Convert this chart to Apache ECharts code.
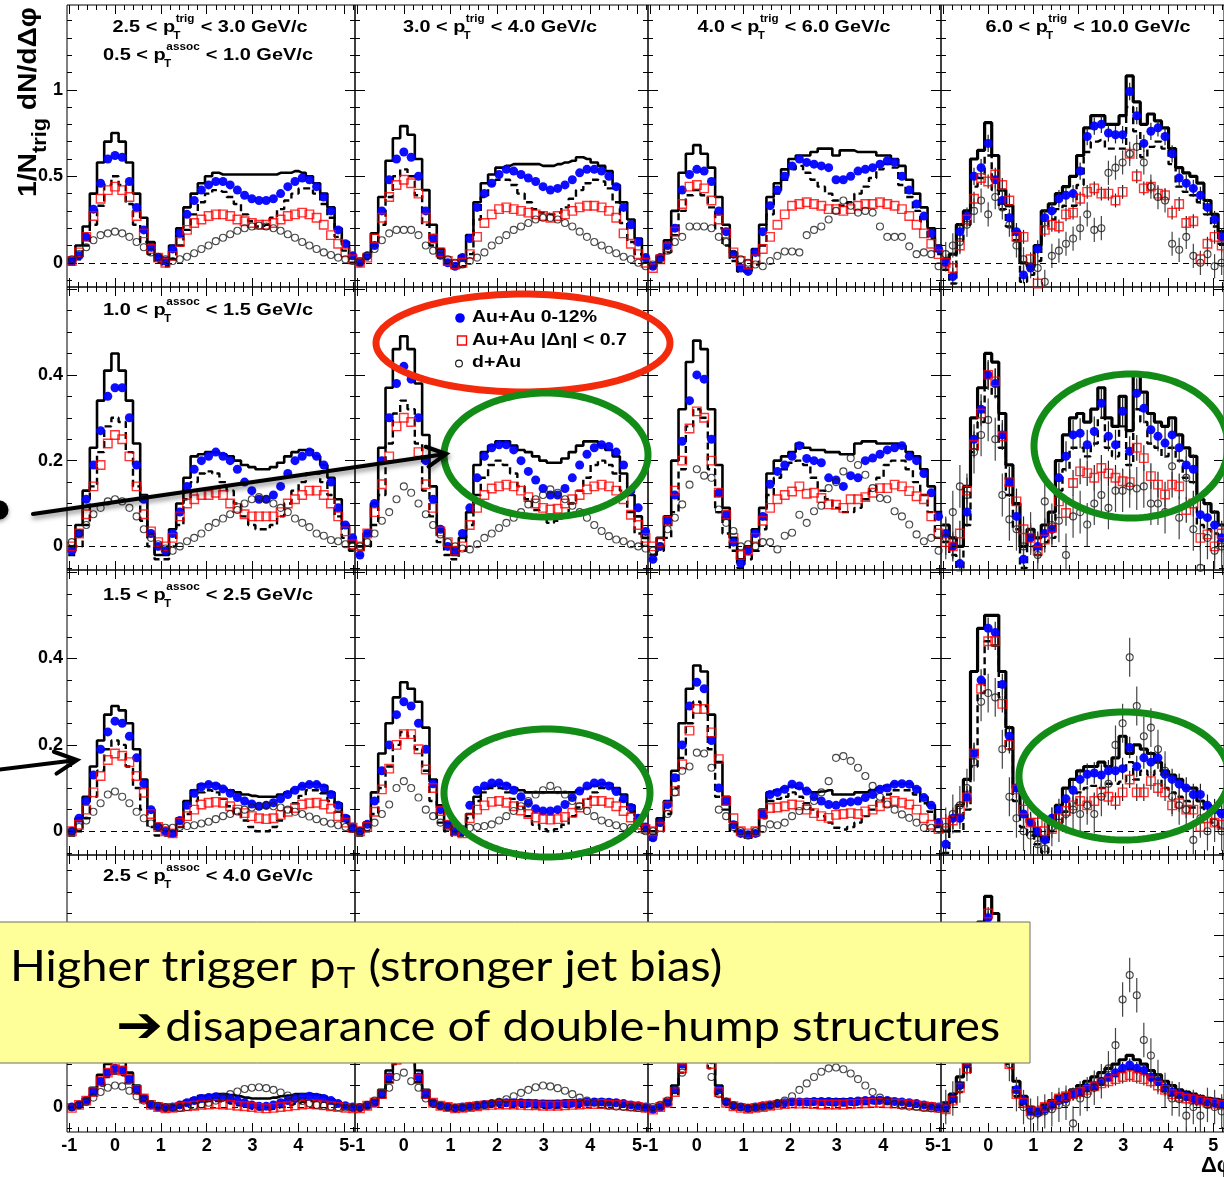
<!DOCTYPE html>
<html><head><meta charset="utf-8">
<script src="https://cdn.jsdelivr.net/npm/echarts/dist/echarts.min.js"></script>
<style>html,body{margin:0;padding:0;background:#fff}#c{width:1224px;height:1177px}</style>
</head><body><div id="c"></div>
<script>
// ---------- data ----------
const dphi = [-0.942,-0.785,-0.628,-0.471,-0.314,-0.157,0,0.157,0.314,0.471,0.628,0.785,0.942,1.1,1.257,1.414,1.571,1.728,1.885,2.042,2.199,2.356,2.513,2.67,2.827,2.985,3.142,3.299,3.456,3.613,3.77,3.927,4.084,4.241,4.398,4.555,4.712,4.869,5.027,5.184];
const xTickLabels = [-1,0,1,2,3,4,5];
const yTickLabelsRow1 = [0,0.5,1];
const yTickLabelsRows = [0,0.2,0.4];
const trigBins = ['2.5','3.0','4.0','6.0','10.0'];
const assocBins = ['0.5','1.0','1.5','2.5','4.0'];
const legendNames = ['Au+Au 0-12%','Au+Au |Δη| < 0.7','d+Au'];
const note1 = ['Higher trigger p','T',' (stronger jet bias)'];
const note2 = ['➔','disapearance of double-hump structures'];

// row 1 (0.5-1.0 GeV/c assoc)
const blue_r1c1 = [0.01,0.04,0.15,0.31,0.46,0.60,0.62,0.61,0.47,0.32,0.19,0.09,0.03,0.01,0.08,0.17,0.28,0.36,0.42,0.45,0.47,0.47,0.45,0.42,0.39,0.37,0.36,0.36,0.37,0.40,0.44,0.47,0.49,0.48,0.44,0.38,0.30,0.19,0.11,0.04];
const red_r1c1 = [0.01,0.06,0.15,0.27,0.37,0.42,0.44,0.42,0.38,0.27,0.17,0.08,0.03,0.0,0.04,0.12,0.19,0.23,0.25,0.27,0.28,0.28,0.27,0.25,0.24,0.23,0.22,0.22,0.23,0.25,0.27,0.28,0.29,0.28,0.26,0.22,0.16,0.11,0.06,0.02];
const dau_r1c1 = [0.02,0.05,0.09,0.13,0.16,0.17,0.18,0.17,0.15,0.12,0.09,0.06,0.035,0.02,0.01,0.02,0.035,0.055,0.08,0.10,0.125,0.145,0.165,0.185,0.20,0.21,0.215,0.21,0.20,0.185,0.165,0.145,0.12,0.10,0.08,0.06,0.045,0.03,0.02,0.01];
const hi_r1c1 = [0.02,0.10,0.21,0.40,0.58,0.70,0.75,0.70,0.58,0.40,0.26,0.12,0.04,0.02,0.10,0.20,0.32,0.40,0.46,0.50,0.52,0.51,0.51,0.51,0.51,0.51,0.51,0.51,0.51,0.52,0.52,0.53,0.52,0.50,0.46,0.40,0.32,0.20,0.12,0.05];
const lo_r1c1 = [-0.01,0.02,0.10,0.22,0.33,0.45,0.50,0.45,0.34,0.22,0.12,0.05,0.0,-0.02,0.02,0.10,0.19,0.28,0.35,0.40,0.42,0.41,0.38,0.34,0.28,0.24,0.21,0.22,0.26,0.31,0.36,0.40,0.43,0.43,0.40,0.34,0.26,0.15,0.07,0.0];

const blue_r1c2 = [0.0,0.04,0.10,0.30,0.48,0.60,0.64,0.61,0.50,0.30,0.14,0.05,0.0,-0.02,0.03,0.14,0.32,0.40,0.46,0.51,0.54,0.53,0.51,0.49,0.47,0.44,0.42,0.43,0.45,0.48,0.52,0.54,0.54,0.53,0.50,0.44,0.32,0.22,0.12,0.03];
const red_r1c2 = [0.0,0.03,0.14,0.26,0.38,0.45,0.48,0.46,0.40,0.26,0.14,0.06,0.01,-0.01,0.0,0.05,0.15,0.23,0.28,0.31,0.32,0.31,0.30,0.29,0.28,0.27,0.26,0.27,0.28,0.30,0.32,0.33,0.33,0.32,0.30,0.26,0.17,0.11,0.05,0.0];
const dau_r1c2 = [0.01,0.04,0.08,0.13,0.17,0.19,0.19,0.19,0.16,0.10,0.07,0.04,0.02,0.0,-0.01,0.01,0.03,0.06,0.10,0.13,0.16,0.19,0.21,0.23,0.25,0.26,0.26,0.25,0.23,0.21,0.18,0.15,0.12,0.10,0.075,0.055,0.035,0.02,0.0,-0.02];
const hi_r1c2 = [0.0,0.05,0.17,0.38,0.59,0.72,0.79,0.74,0.60,0.42,0.22,0.08,0.01,-0.02,0.04,0.16,0.35,0.46,0.51,0.55,0.56,0.57,0.57,0.57,0.57,0.56,0.56,0.57,0.58,0.59,0.61,0.60,0.58,0.56,0.53,0.45,0.35,0.25,0.14,0.04];
const lo_r1c2 = [-0.01,0.02,0.10,0.22,0.38,0.50,0.54,0.50,0.39,0.22,0.10,0.03,-0.01,-0.03,-0.02,0.05,0.25,0.38,0.45,0.48,0.48,0.45,0.40,0.35,0.31,0.29,0.28,0.29,0.32,0.37,0.42,0.46,0.48,0.47,0.43,0.35,0.23,0.12,0.05,0.0];

const blue_r1c3 = [-0.02,0.03,0.10,0.20,0.42,0.51,0.54,0.53,0.47,0.30,0.18,0.05,-0.03,-0.05,0.06,0.18,0.33,0.42,0.50,0.56,0.60,0.58,0.57,0.56,0.55,0.48,0.48,0.50,0.53,0.54,0.55,0.57,0.59,0.58,0.50,0.42,0.34,0.27,0.17,0.08];
const red_r1c3 = [-0.03,0.02,0.09,0.18,0.34,0.44,0.45,0.43,0.36,0.25,0.17,0.06,0.01,-0.01,0.02,0.08,0.15,0.22,0.28,0.33,0.34,0.35,0.34,0.33,0.31,0.31,0.30,0.31,0.33,0.34,0.34,0.35,0.34,0.33,0.31,0.27,0.22,0.17,0.11,0.05];
const dau_r1c3 = [-0.01,0.02,0.07,0.12,0.15,0.21,0.21,0.21,0.20,0.15,0.12,0.05,0.02,0.0,-0.01,-0.02,0.01,0.04,0.065,0.065,0.06,0.16,0.19,0.21,0.25,0.30,0.36,0.33,0.29,0.30,0.29,0.21,0.15,0.15,0.15,0.095,0.05,0.06,0.05,-0.02];
const hi_r1c3 = [-0.02,0.04,0.13,0.30,0.52,0.63,0.68,0.63,0.55,0.38,0.22,0.06,-0.02,-0.04,0.08,0.22,0.38,0.46,0.54,0.60,0.62,0.62,0.64,0.66,0.66,0.62,0.65,0.65,0.64,0.64,0.64,0.62,0.62,0.60,0.56,0.48,0.40,0.32,0.20,0.10];
const lo_r1c3 = [-0.03,0.0,0.06,0.16,0.30,0.39,0.42,0.39,0.32,0.20,0.10,0.01,-0.05,-0.06,-0.01,0.10,0.28,0.40,0.48,0.54,0.56,0.52,0.48,0.44,0.40,0.36,0.33,0.35,0.40,0.44,0.49,0.54,0.57,0.55,0.45,0.38,0.30,0.24,0.14,0.05];

const blue_r1c4 = [0.0,-0.08,0.18,0.27,0.50,0.55,0.69,0.48,0.36,0.26,0.18,-0.07,-0.03,0.08,0.26,0.30,0.37,0.39,0.40,0.53,0.73,0.79,0.80,0.75,0.74,0.74,0.99,0.85,0.69,0.76,0.78,0.73,0.63,0.49,0.46,0.43,0.39,0.32,0.25,0.15];
const red_r1c4 = [0.0,-0.03,0.10,0.25,0.37,0.49,0.47,0.51,0.45,0.36,0.15,0.15,0.02,-0.12,0.19,0.22,0.21,0.28,0.29,0.37,0.41,0.43,0.40,0.40,0.36,0.41,0.63,0.50,0.43,0.44,0.40,0.39,0.29,0.34,0.23,0.24,0.02,0.11,0.15,0.10];
const dau_r1c4 = [0.05,0.10,0.12,0.22,0.30,0.36,0.28,0.38,0.32,0.22,0.10,0.02,-0.02,-0.03,-0.11,0.04,0.07,0.11,0.14,0.20,0.28,0.19,0.20,0.52,0.55,0.58,0.63,0.67,0.58,0.44,0.38,0.36,0.11,0.075,0.15,0.04,0.0,0.05,-0.02,0.0];
const hi_r1c4 = [0.02,0.05,0.22,0.30,0.60,0.65,0.81,0.62,0.42,0.33,0.18,0.0,-0.02,0.10,0.30,0.34,0.40,0.44,0.50,0.62,0.78,0.85,0.85,0.80,0.80,0.85,1.08,0.93,0.80,0.86,0.82,0.78,0.66,0.55,0.52,0.50,0.46,0.36,0.28,0.18];
const lo_r1c4 = [-0.04,-0.12,0.13,0.22,0.44,0.49,0.62,0.42,0.31,0.21,0.13,-0.11,-0.07,0.01,0.21,0.25,0.31,0.33,0.33,0.45,0.64,0.70,0.71,0.66,0.66,0.66,0.90,0.76,0.61,0.67,0.70,0.66,0.57,0.44,0.41,0.39,0.35,0.28,0.21,0.11];

// row 2 (1.0-1.5 GeV/c assoc)
const blue_r2c1 = [-0.01,0.03,0.11,0.19,0.27,0.35,0.37,0.37,0.30,0.19,0.11,0.03,0.0,-0.01,0.03,0.08,0.14,0.18,0.20,0.21,0.22,0.21,0.20,0.18,0.15,0.13,0.11,0.11,0.12,0.14,0.17,0.20,0.21,0.22,0.21,0.19,0.15,0.09,0.05,0.02];
const red_r2c1 = [0.0,0.03,0.075,0.14,0.19,0.24,0.26,0.25,0.21,0.14,0.075,0.035,0.01,0.0,0.02,0.07,0.10,0.11,0.12,0.12,0.125,0.12,0.10,0.09,0.075,0.07,0.07,0.07,0.07,0.08,0.10,0.11,0.12,0.13,0.13,0.12,0.10,0.07,0.035,0.005];
const dau_r2c1 = [0.01,0.03,0.05,0.075,0.09,0.105,0.11,0.105,0.09,0.07,0.04,0.02,0.005,-0.005,-0.01,0.0,0.012,0.02,0.03,0.045,0.055,0.065,0.075,0.085,0.10,0.11,0.115,0.11,0.10,0.09,0.08,0.065,0.055,0.045,0.03,0.025,0.015,0.012,0.005,0.0];
const hi_r2c1 = [0.0,0.05,0.13,0.23,0.34,0.41,0.45,0.41,0.34,0.24,0.12,0.03,-0.02,-0.02,0.04,0.10,0.16,0.21,0.215,0.22,0.22,0.215,0.21,0.20,0.19,0.185,0.18,0.18,0.185,0.195,0.21,0.22,0.225,0.225,0.21,0.19,0.16,0.11,0.05,0.01];
const lo_r2c1 = [-0.02,0.0,0.05,0.14,0.22,0.28,0.30,0.29,0.22,0.14,0.06,0.0,-0.03,-0.03,0.0,0.05,0.11,0.15,0.17,0.175,0.17,0.15,0.13,0.10,0.07,0.05,0.04,0.04,0.05,0.07,0.10,0.13,0.15,0.17,0.17,0.15,0.12,0.07,0.02,-0.01];

const blue_r2c2 = [-0.02,0.03,0.10,0.20,0.30,0.38,0.42,0.39,0.30,0.20,0.11,0.04,0.0,-0.01,0.03,0.09,0.16,0.21,0.23,0.237,0.237,0.225,0.20,0.175,0.155,0.135,0.12,0.12,0.135,0.16,0.19,0.215,0.23,0.237,0.233,0.22,0.19,0.13,0.09,0.035];
const red_r2c2 = [0.0,0.03,0.08,0.145,0.21,0.28,0.30,0.29,0.22,0.145,0.09,0.035,0.01,-0.01,0.0,0.05,0.09,0.12,0.135,0.14,0.144,0.14,0.13,0.115,0.10,0.09,0.086,0.088,0.10,0.11,0.12,0.133,0.14,0.144,0.14,0.13,0.11,0.074,0.05,0.02];
const dau_r2c2 = [0.0,0.01,0.03,0.06,0.08,0.11,0.14,0.125,0.10,0.075,0.05,0.028,0.01,0.0,-0.005,-0.007,0.005,0.02,0.03,0.043,0.055,0.067,0.08,0.098,0.11,0.12,0.133,0.125,0.11,0.095,0.08,0.067,0.05,0.036,0.024,0.016,0.012,0.005,0.0,-0.005];
const hi_r2c2 = [0.0,0.03,0.10,0.23,0.37,0.46,0.49,0.46,0.38,0.26,0.14,0.04,0.0,-0.02,0.02,0.08,0.19,0.22,0.235,0.245,0.245,0.235,0.225,0.22,0.21,0.20,0.195,0.195,0.205,0.22,0.235,0.245,0.245,0.235,0.225,0.21,0.17,0.12,0.07,0.02];
const lo_r2c2 = [-0.02,0.0,0.05,0.12,0.24,0.31,0.34,0.32,0.24,0.13,0.07,0.01,-0.02,-0.03,-0.01,0.05,0.12,0.16,0.19,0.20,0.19,0.17,0.14,0.11,0.085,0.065,0.055,0.06,0.075,0.10,0.13,0.16,0.19,0.20,0.19,0.17,0.13,0.08,0.03,0.0];

const blue_r2c3 = [-0.03,0.0,0.06,0.12,0.245,0.34,0.40,0.39,0.25,0.125,0.074,0.01,-0.04,-0.01,0.03,0.07,0.145,0.175,0.19,0.21,0.235,0.205,0.20,0.195,0.16,0.155,0.14,0.165,0.16,0.20,0.206,0.215,0.225,0.23,0.235,0.21,0.20,0.17,0.125,0.07];
const red_r2c3 = [0.0,0.01,0.06,0.13,0.20,0.275,0.315,0.30,0.20,0.125,0.074,0.02,-0.02,-0.01,0.02,0.06,0.09,0.11,0.12,0.128,0.14,0.123,0.125,0.113,0.098,0.097,0.09,0.11,0.11,0.115,0.125,0.136,0.136,0.144,0.14,0.129,0.117,0.11,0.07,0.03];
const dau_r2c3 = [-0.01,0.0,0.04,0.067,0.098,0.144,0.18,0.165,0.16,0.086,0.055,0.036,0.0,0.005,0.0,0.01,0.01,-0.007,0.025,0.032,0.074,0.055,0.082,0.095,0.136,0.15,0.175,0.206,0.19,0.167,0.136,0.113,0.11,0.082,0.07,0.051,0.028,0.012,0.02,-0.01];
const hi_r2c3 = [-0.02,0.02,0.07,0.20,0.32,0.43,0.48,0.46,0.32,0.19,0.09,0.02,-0.03,0.0,0.04,0.09,0.17,0.20,0.21,0.22,0.24,0.23,0.225,0.225,0.22,0.22,0.215,0.215,0.24,0.245,0.245,0.24,0.24,0.24,0.235,0.22,0.21,0.18,0.14,0.08];
const lo_r2c3 = [-0.03,-0.01,0.02,0.08,0.18,0.28,0.32,0.30,0.18,0.08,0.03,-0.01,-0.05,-0.03,-0.01,0.04,0.12,0.16,0.18,0.195,0.20,0.19,0.16,0.13,0.11,0.09,0.08,0.08,0.09,0.11,0.13,0.16,0.19,0.20,0.20,0.18,0.15,0.12,0.08,0.02];

const blue_r2c4 = [0.03,0.0,-0.04,0.08,0.25,0.32,0.40,0.38,0.26,0.15,0.07,-0.03,0.02,0.0,0.03,0.04,0.16,0.21,0.26,0.264,0.237,0.268,0.334,0.257,0.237,0.315,0.222,0.357,0.322,0.272,0.257,0.241,0.26,0.23,0.19,0.18,0.074,0.067,0.05,0.02];
const red_r2c4 = [0.01,0.0,0.03,0.13,0.237,0.31,0.40,0.385,0.257,0.15,0.105,0.04,0.02,-0.01,0.016,0.043,0.105,0.078,0.148,0.175,0.171,0.16,0.183,0.17,0.16,0.152,0.15,0.23,0.206,0.164,0.144,0.121,0.144,0.14,0.085,0.10,0.02,0.028,0.0,0.03];
const dau_r2c4 = [0.02,0.08,0.14,0.12,0.22,0.26,0.295,0.25,0.12,0.063,0.04,0.0,0.03,-0.02,0.105,0.05,0.06,-0.02,0.07,0.08,0.051,0.10,0.12,0.09,0.13,0.13,0.14,0.135,0.14,0.10,0.10,0.08,0.187,0.067,0.16,0.04,-0.05,0.02,-0.01,0.0];
const hi_r2c4 = [0.05,0.02,0.0,0.14,0.30,0.37,0.45,0.43,0.31,0.19,0.10,0.0,0.04,0.02,0.05,0.08,0.20,0.26,0.30,0.31,0.29,0.32,0.37,0.30,0.28,0.35,0.27,0.40,0.36,0.31,0.29,0.28,0.30,0.26,0.23,0.21,0.11,0.10,0.08,0.05];
const lo_r2c4 = [0.01,-0.02,-0.06,0.05,0.22,0.29,0.37,0.35,0.23,0.12,0.04,-0.05,0.0,-0.02,0.01,0.02,0.13,0.18,0.23,0.23,0.21,0.24,0.30,0.23,0.21,0.28,0.19,0.32,0.29,0.24,0.23,0.21,0.23,0.20,0.16,0.15,0.05,0.04,0.03,0.0];

// row 3 (1.5-2.5 GeV/c assoc)
const blue_r3c1 = [0.0,0.03,0.07,0.13,0.19,0.23,0.255,0.25,0.22,0.17,0.11,0.05,0.01,0.0,-0.005,0.025,0.06,0.088,0.103,0.108,0.105,0.098,0.088,0.078,0.07,0.063,0.058,0.06,0.066,0.075,0.085,0.095,0.104,0.108,0.108,0.10,0.085,0.06,0.03,0.01];
const red_r3c1 = [0.0,0.015,0.05,0.09,0.128,0.165,0.18,0.175,0.16,0.128,0.089,0.04,0.01,0.0,-0.005,0.02,0.035,0.05,0.062,0.066,0.068,0.066,0.058,0.05,0.042,0.035,0.03,0.028,0.03,0.038,0.045,0.054,0.062,0.065,0.066,0.062,0.052,0.035,0.02,0.008];
const dau_r3c1 = [0.0,0.01,0.025,0.045,0.065,0.085,0.092,0.08,0.065,0.045,0.03,0.018,0.01,0.008,0.008,0.01,0.012,0.014,0.018,0.022,0.028,0.035,0.04,0.046,0.05,0.055,0.058,0.06,0.058,0.055,0.05,0.045,0.04,0.034,0.028,0.022,0.018,0.014,0.01,0.006];
const hi_r3c1 = [0.0,0.03,0.08,0.15,0.21,0.27,0.29,0.28,0.25,0.19,0.12,0.05,0.01,0.0,0.0,0.03,0.07,0.095,0.108,0.11,0.108,0.10,0.095,0.09,0.085,0.082,0.08,0.08,0.08,0.085,0.09,0.098,0.105,0.11,0.11,0.105,0.09,0.065,0.035,0.012];
const lo_r3c1 = [-0.01,0.0,0.03,0.08,0.14,0.19,0.21,0.20,0.15,0.10,0.05,0.01,-0.01,-0.01,-0.01,0.01,0.04,0.07,0.09,0.095,0.09,0.075,0.058,0.04,0.025,0.01,0.0,0.0,0.01,0.025,0.045,0.065,0.082,0.095,0.095,0.088,0.07,0.045,0.02,0.0];

const blue_r3c2 = [0.0,0.016,0.07,0.14,0.20,0.27,0.30,0.29,0.25,0.19,0.11,0.05,0.015,0.0,0.0,0.06,0.095,0.105,0.112,0.112,0.105,0.095,0.08,0.065,0.052,0.047,0.047,0.05,0.062,0.078,0.093,0.105,0.112,0.112,0.105,0.092,0.075,0.055,0.03,0.01];
const red_r3c2 = [0.0,0.01,0.045,0.097,0.145,0.20,0.225,0.225,0.19,0.143,0.10,0.047,0.015,0.0,-0.005,0.03,0.05,0.06,0.068,0.07,0.066,0.058,0.048,0.04,0.032,0.028,0.027,0.028,0.033,0.043,0.055,0.065,0.07,0.07,0.066,0.058,0.047,0.032,0.015,0.005];
const dau_r3c2 = [0.0,0.01,0.02,0.04,0.062,0.10,0.116,0.10,0.078,0.05,0.035,0.02,0.01,0.005,0.005,0.008,0.01,0.012,0.016,0.025,0.035,0.047,0.058,0.07,0.085,0.095,0.105,0.095,0.085,0.07,0.058,0.047,0.035,0.025,0.019,0.014,0.01,0.008,0.005,0.0];
const hi_r3c2 = [0.0,0.02,0.09,0.18,0.25,0.31,0.345,0.33,0.30,0.24,0.12,0.06,0.02,0.0,0.0,0.04,0.08,0.10,0.105,0.11,0.108,0.10,0.095,0.09,0.09,0.09,0.09,0.09,0.09,0.09,0.095,0.10,0.105,0.11,0.11,0.10,0.085,0.06,0.035,0.01];
const lo_r3c2 = [-0.01,0.0,0.04,0.10,0.15,0.20,0.23,0.22,0.19,0.14,0.07,0.02,0.0,-0.01,-0.01,0.03,0.07,0.09,0.10,0.10,0.09,0.075,0.055,0.035,0.015,0.005,0.0,0.005,0.015,0.035,0.055,0.075,0.09,0.10,0.10,0.09,0.07,0.045,0.02,0.0];

const blue_r3c3 = [-0.015,0.02,0.062,0.124,0.20,0.29,0.345,0.33,0.21,0.10,0.07,0.015,-0.005,-0.008,-0.005,0.04,0.085,0.09,0.097,0.109,0.105,0.093,0.08,0.07,0.062,0.06,0.066,0.068,0.07,0.078,0.085,0.097,0.10,0.109,0.11,0.109,0.097,0.078,0.06,0.02];
const red_r3c3 = [0.0,0.01,0.058,0.093,0.155,0.233,0.283,0.283,0.229,0.167,0.07,0.03,0.0,-0.005,0.0,0.04,0.054,0.055,0.058,0.062,0.06,0.05,0.042,0.035,0.031,0.038,0.04,0.042,0.04,0.046,0.05,0.058,0.066,0.07,0.066,0.062,0.05,0.03,0.015,0.005];
const dau_r3c3 = [0.0,0.02,0.04,0.09,0.14,0.15,0.182,0.18,0.147,0.05,0.035,0.01,0.0,-0.01,0.0,0.005,0.016,0.014,0.02,0.035,0.047,0.058,0.07,0.09,0.116,0.17,0.174,0.163,0.147,0.128,0.105,0.08,0.062,0.05,0.039,0.031,0.02,0.008,0.008,0.005];
const hi_r3c3 = [0.0,0.03,0.07,0.14,0.25,0.33,0.384,0.37,0.27,0.16,0.08,0.02,0.0,-0.005,0.0,0.05,0.09,0.095,0.10,0.105,0.10,0.095,0.09,0.092,0.095,0.085,0.085,0.085,0.09,0.09,0.095,0.10,0.105,0.11,0.11,0.11,0.10,0.08,0.06,0.025];
const lo_r3c3 = [-0.02,0.0,0.04,0.10,0.17,0.25,0.30,0.29,0.19,0.08,0.05,0.0,-0.01,-0.015,-0.01,0.03,0.07,0.075,0.08,0.09,0.08,0.065,0.05,0.035,0.02,0.008,0.004,0.01,0.02,0.035,0.05,0.07,0.085,0.095,0.095,0.095,0.085,0.065,0.045,0.01];

const blue_r3c4 = [-0.03,0.03,0.03,0.08,0.18,0.35,0.47,0.46,0.34,0.22,0.10,0.04,0.02,0.0,-0.02,0.03,0.05,0.075,0.095,0.12,0.132,0.135,0.13,0.14,0.14,0.145,0.194,0.15,0.17,0.16,0.17,0.132,0.12,0.109,0.10,0.085,0.085,0.06,0.05,0.04];
const red_r3c4 = [0.02,0.025,0.05,0.078,0.18,0.33,0.44,0.44,0.295,0.20,0.097,0.05,0.02,0.02,0.0,0.005,0.03,0.047,0.06,0.07,0.06,0.07,0.09,0.08,0.07,0.09,0.12,0.09,0.09,0.116,0.10,0.09,0.06,0.065,0.05,0.05,0.01,0.03,0.02,0.015];
const dau_r3c4 = [0.01,0.04,0.06,0.10,0.16,0.30,0.32,0.31,0.19,0.08,0.03,0.0,-0.01,-0.03,-0.04,0.01,0.02,0.04,0.05,0.04,0.06,0.04,0.08,0.11,0.20,0.25,0.403,0.29,0.22,0.24,0.19,0.14,0.08,0.06,0.05,-0.02,0.03,0.0,0.02,0.0];
const hi_r3c4 = [0.0,0.03,0.06,0.12,0.37,0.47,0.50,0.50,0.37,0.24,0.10,0.04,0.02,-0.01,-0.02,0.02,0.06,0.10,0.12,0.14,0.15,0.15,0.16,0.15,0.17,0.22,0.18,0.20,0.19,0.18,0.16,0.14,0.13,0.12,0.10,0.10,0.07,0.06,0.05,0.04];
const lo_r3c4 = [-0.05,0.0,0.0,0.05,0.15,0.32,0.44,0.43,0.31,0.19,0.07,0.01,-0.01,-0.03,-0.05,0.0,0.02,0.045,0.065,0.09,0.10,0.105,0.10,0.11,0.11,0.115,0.16,0.12,0.14,0.13,0.14,0.10,0.09,0.08,0.07,0.055,0.055,0.03,0.02,0.01];

// row 4 (2.5-4.0 GeV/c assoc)
const blue_r4c1 = [0.0,0.005,0.015,0.035,0.06,0.08,0.09,0.085,0.065,0.04,0.02,0.005,0.0,-0.002,0.0,0.005,0.01,0.015,0.02,0.022,0.024,0.023,0.02,0.015,0.01,0.005,0.002,0.002,0.005,0.01,0.015,0.02,0.023,0.025,0.023,0.02,0.015,0.008,0.003,0.0];
const red_r4c1 = [-0.002,0.005,0.015,0.035,0.06,0.08,0.088,0.085,0.065,0.04,0.02,0.005,0.0,-0.003,-0.002,0.0,0.002,0.003,0.005,0.006,0.007,0.006,0.005,0.003,0.002,0.0,-0.002,-0.003,-0.002,0.0,0.002,0.004,0.006,0.007,0.006,0.004,0.002,0.0,-0.002,-0.003];
const dau_r4c1 = [0.0,0.005,0.012,0.022,0.035,0.045,0.05,0.048,0.038,0.025,0.015,0.007,0.003,0.0,-0.002,-0.002,0.0,0.003,0.006,0.01,0.015,0.022,0.03,0.036,0.042,0.045,0.046,0.044,0.04,0.034,0.027,0.02,0.014,0.009,0.005,0.003,0.001,0.0,-0.001,-0.002];
const hi_r4c1 = [0.0,0.008,0.02,0.045,0.075,0.10,0.11,0.105,0.08,0.05,0.025,0.008,0.0,0.0,0.002,0.008,0.014,0.02,0.026,0.028,0.03,0.03,0.028,0.025,0.022,0.02,0.02,0.02,0.022,0.025,0.027,0.03,0.03,0.03,0.028,0.024,0.018,0.01,0.004,0.0];
const lo_r4c1 = [-0.003,0.003,0.012,0.03,0.05,0.07,0.078,0.074,0.055,0.032,0.015,0.002,-0.003,-0.005,-0.003,0.0,0.005,0.01,0.012,0.014,0.014,0.012,0.008,0.004,0.0,-0.004,-0.006,-0.006,-0.004,0.0,0.004,0.008,0.012,0.014,0.014,0.012,0.008,0.004,0.0,-0.003];

const blue_r4c2 = [-0.002,0.003,0.01,0.03,0.07,0.12,0.16,0.13,0.07,0.03,0.01,0.003,0.0,-0.002,0.0,0.002,0.004,0.006,0.008,0.01,0.01,0.01,0.01,0.009,0.008,0.007,0.006,0.007,0.008,0.009,0.01,0.011,0.012,0.012,0.011,0.01,0.008,0.005,0.003,0.0];
const red_r4c2 = [-0.003,0.003,0.01,0.03,0.065,0.11,0.15,0.12,0.065,0.03,0.01,0.003,0.0,-0.003,-0.002,0.0,0.002,0.004,0.005,0.006,0.006,0.006,0.005,0.004,0.004,0.003,0.003,0.003,0.004,0.005,0.006,0.007,0.007,0.007,0.006,0.005,0.004,0.002,0.0,-0.002];
const dau_r4c2 = [0.0,0.005,0.015,0.03,0.045,0.07,0.08,0.06,0.045,0.02,0.008,0.003,0.0,-0.003,-0.002,0.0,0.002,0.005,0.008,0.012,0.018,0.025,0.033,0.04,0.046,0.05,0.048,0.044,0.038,0.03,0.022,0.015,0.01,0.006,0.003,0.001,0.0,-0.001,-0.002,-0.003];
const hi_r4c2 = [0.0,0.006,0.015,0.04,0.085,0.14,0.185,0.15,0.085,0.04,0.014,0.005,0.002,0.0,0.002,0.005,0.007,0.01,0.012,0.014,0.015,0.015,0.015,0.015,0.014,0.014,0.014,0.014,0.015,0.015,0.016,0.016,0.017,0.017,0.016,0.014,0.011,0.008,0.005,0.002];
const lo_r4c2 = [-0.004,0.0,0.006,0.022,0.058,0.10,0.14,0.11,0.058,0.022,0.006,0.0,-0.003,-0.004,-0.002,0.0,0.001,0.002,0.003,0.004,0.003,0.002,0.001,0.0,-0.001,-0.002,-0.002,-0.001,0.0,0.002,0.003,0.005,0.006,0.006,0.005,0.004,0.003,0.001,0.0,-0.002];

const blue_r4c3 = [-0.005,0.0,0.01,0.04,0.10,0.20,0.26,0.22,0.11,0.04,0.012,0.003,0.0,-0.003,0.0,0.003,0.005,0.008,0.01,0.012,0.012,0.012,0.013,0.013,0.013,0.012,0.012,0.013,0.014,0.015,0.016,0.016,0.015,0.013,0.012,0.01,0.008,0.005,0.002,0.0];
const red_r4c3 = [-0.006,0.0,0.01,0.035,0.09,0.18,0.24,0.20,0.10,0.035,0.01,0.002,-0.002,-0.004,-0.002,0.0,0.003,0.005,0.007,0.008,0.008,0.008,0.007,0.006,0.006,0.006,0.006,0.007,0.008,0.009,0.01,0.01,0.009,0.008,0.007,0.006,0.004,0.002,0.0,-0.002];
const dau_r4c3 = [0.0,0.005,0.015,0.04,0.08,0.12,0.15,0.12,0.07,0.03,0.012,0.004,0.0,-0.003,-0.002,0.0,0.003,0.008,0.015,0.025,0.04,0.055,0.07,0.082,0.09,0.092,0.088,0.078,0.065,0.05,0.035,0.022,0.013,0.007,0.003,0.001,0.0,-0.002,-0.003,-0.004];
const hi_r4c3 = [-0.002,0.003,0.015,0.05,0.12,0.23,0.30,0.25,0.13,0.05,0.016,0.006,0.002,0.0,0.002,0.005,0.008,0.011,0.014,0.016,0.017,0.018,0.018,0.018,0.018,0.018,0.018,0.018,0.019,0.02,0.02,0.02,0.019,0.017,0.015,0.013,0.01,0.007,0.004,0.001];
const lo_r4c3 = [-0.008,-0.003,0.006,0.03,0.08,0.17,0.22,0.19,0.09,0.03,0.008,0.0,-0.003,-0.005,-0.003,0.0,0.002,0.004,0.006,0.007,0.007,0.006,0.006,0.005,0.005,0.004,0.004,0.005,0.006,0.007,0.008,0.009,0.009,0.008,0.007,0.006,0.004,0.002,0.0,-0.002];

const blue_r4c4 = [0.0,0.02,0.05,0.10,0.22,0.38,0.44,0.40,0.25,0.12,0.04,0.015,-0.01,-0.012,-0.005,0.005,0.015,0.02,0.03,0.035,0.045,0.05,0.06,0.07,0.08,0.09,0.098,0.09,0.085,0.07,0.06,0.045,0.035,0.03,0.025,0.02,0.015,0.012,0.01,0.008];
const red_r4c4 = [-0.005,0.015,0.045,0.09,0.20,0.36,0.45,0.40,0.24,0.10,0.03,0.01,-0.01,-0.01,0.0,0.005,0.02,0.025,0.03,0.035,0.04,0.048,0.055,0.06,0.065,0.07,0.074,0.07,0.065,0.06,0.05,0.04,0.03,0.024,0.02,0.018,0.015,0.01,0.008,0.005];
const dau_r4c4 = [0.0,0.02,0.05,0.10,0.18,0.28,0.33,0.30,0.20,0.10,0.03,0.0,-0.02,-0.015,-0.01,-0.005,0.005,0.01,-0.038,0.02,0.03,0.045,0.06,0.09,0.144,0.25,0.307,0.26,0.156,0.12,0.07,0.04,0.02,0.018,-0.02,0.0,-0.02,0.005,0.0,-0.01];
const hi_r4c4 = [0.01,0.03,0.07,0.13,0.26,0.43,0.49,0.45,0.29,0.15,0.06,0.025,0.0,-0.005,0.005,0.015,0.025,0.03,0.04,0.05,0.06,0.07,0.08,0.09,0.10,0.11,0.12,0.11,0.10,0.085,0.075,0.06,0.05,0.04,0.035,0.03,0.025,0.02,0.018,0.015];
const lo_r4c4 = [-0.01,0.01,0.035,0.08,0.19,0.34,0.41,0.37,0.22,0.10,0.025,0.005,-0.015,-0.018,-0.012,-0.003,0.007,0.012,0.022,0.027,0.037,0.042,0.052,0.062,0.072,0.082,0.088,0.082,0.077,0.062,0.052,0.037,0.027,0.022,0.017,0.012,0.007,0.004,0.002,0.0];

// typical statistical error (half-length) for 6-10 GeV/c column: [AuAu 0-12%, AuAu |Δη|<0.7, d+Au]
const err_c4 = [[0.05,0.04,0.07],[0.035,0.03,0.05],[0.025,0.02,0.045],[0.015,0.015,0.04]];

const PANELS = [
  [blue_r1c1,red_r1c1,dau_r1c1,hi_r1c1,lo_r1c1],[blue_r1c2,red_r1c2,dau_r1c2,hi_r1c2,lo_r1c2],[blue_r1c3,red_r1c3,dau_r1c3,hi_r1c3,lo_r1c3],[blue_r1c4,red_r1c4,dau_r1c4,hi_r1c4,lo_r1c4],
  [blue_r2c1,red_r2c1,dau_r2c1,hi_r2c1,lo_r2c1],[blue_r2c2,red_r2c2,dau_r2c2,hi_r2c2,lo_r2c2],[blue_r2c3,red_r2c3,dau_r2c3,hi_r2c3,lo_r2c3],[blue_r2c4,red_r2c4,dau_r2c4,hi_r2c4,lo_r2c4],
  [blue_r3c1,red_r3c1,dau_r3c1,hi_r3c1,lo_r3c1],[blue_r3c2,red_r3c2,dau_r3c2,hi_r3c2,lo_r3c2],[blue_r3c3,red_r3c3,dau_r3c3,hi_r3c3,lo_r3c3],[blue_r3c4,red_r3c4,dau_r3c4,hi_r3c4,lo_r3c4],
  [blue_r4c1,red_r4c1,dau_r4c1,hi_r4c1,lo_r4c1],[blue_r4c2,red_r4c2,dau_r4c2,hi_r4c2,lo_r4c2],[blue_r4c3,red_r4c3,dau_r4c3,hi_r4c3,lo_r4c3],[blue_r4c4,red_r4c4,dau_r4c4,hi_r4c4,lo_r4c4]
];
PANELS.forEach((p,g)=>p.forEach((a,j)=>{ if(a.length!==dphi.length) throw new Error('length mismatch panel '+g+' series '+j+': '+a.length); }));

// ---------- layout ----------
const XMIN = -Math.PI/3, XMAX = 5*Math.PI/3, HW = Math.PI/40;
const colLeft=[67,355,648,941], colW=[288,293,293,293];
const rowTop=[5,287,570,855], rowH=[282,283,285,277];
const yMin=[-0.14,-0.055,-0.055,-0.058], yMax=[1.49,0.605,0.605,0.586];
function steps(a,b,st,skip){const o=[];for(let i=0;;i++){const v=Math.round((a+i*st)*1000)/1000; if(v>b+1e-9)break; if(!skip.some(s=>Math.abs(s-v)<1e-6))o.push(v);}return o;}
const xMinor = steps(-1,5.2,0.2,xTickLabels);
const yMinor1 = steps(-0.1,1.4,0.1,yTickLabelsRow1);
const yMinor2 = steps(-0.05,0.6,0.05,[0,0.2,0.4,0.6]);
const yMajor2 = [0,0.2,0.4,0.6];
const FONT = '"Liberation Sans", Arial, sans-serif';
const fmt = v => String(Math.round(v*100)/100);

function axX(g,pos,ticks,len,labels){
  return {type:'value', gridIndex:g, position:pos, min:XMIN, max:XMAX,
    axisLine:{show:false, onZero:false}, splitLine:{show:false},
    axisTick:{show:true, inside:true, length:len, customValues:ticks, lineStyle:{color:'#000',width:1}},
    axisLabel: labels ? {show:true, customValues:labels, margin:5, color:'#000', fontFamily:FONT, fontWeight:'bold', fontSize:18, formatter:fmt} : {show:false}};
}
function axY(g,r,pos,ticks,len,labels){
  return {type:'value', gridIndex:g, position:pos, min:yMin[r], max:yMax[r],
    axisLine:{show:false, onZero:false}, splitLine:{show:false},
    axisTick:{show:true, inside:true, length:len, customValues:ticks, lineStyle:{color:'#000',width:1}},
    axisLabel: labels ? {show:true, customValues:labels, margin:4, color:'#000', fontFamily:FONT, fontWeight:'bold', fontSize:18, formatter:fmt} : {show:false}};
}
const pts = a => dphi.map((x,i)=>[x,a[i]]);
const hist = a => [[dphi[0]-HW,a[0]]].concat(pts(a),[[dphi[dphi.length-1]+HW,a[a.length-1]]]);

const grids=[], xAxis=[], yAxis=[], series=[];
for(let r=0;r<4;r++) for(let c=0;c<4;c++){
  const g=r*4+c;
  grids.push({left:colLeft[c], top:rowTop[r], width:colW[c], height:rowH[r], show:true, borderColor:'#000', borderWidth:1, backgroundColor:'rgba(0,0,0,0)'});
  xAxis.push(axX(g,'bottom',xTickLabels,9, r===3?xTickLabels:null));
  xAxis.push(axX(g,'bottom',xMinor,5,null));
  xAxis.push(axX(g,'top',xTickLabels,9,null));
  xAxis.push(axX(g,'top',xMinor,5,null));
  const yM = r===0?yTickLabelsRow1:yMajor2, ym = r===0?yMinor1:yMinor2, yl = r===0?yTickLabelsRow1:yTickLabelsRows;
  yAxis.push(axY(g,r,'left',yM,10, c===0?yl:null));
  yAxis.push(axY(g,r,'left',ym,5,null));
  yAxis.push(axY(g,r,'right',yM,10,null));
  yAxis.push(axY(g,r,'right',ym,5,null));
  const [bl,rd,da,hi,lo] = PANELS[g];
  const ax = {xAxisIndex:4*g, yAxisIndex:4*g};
  series.push(Object.assign({type:'line', name:'sys-hi', step:'middle', symbol:'none', z:2, data:hist(hi), lineStyle:{color:'#000', width:c===3?3.2:2.6}, silent:true}, ax));
  series.push(Object.assign({type:'line', name:'sys-lo', step:'middle', symbol:'none', z:2, data:hist(lo), lineStyle:{color:'#000', width:2.4, type:[7,4]}, silent:true,
    markLine:{silent:true, symbol:['none','none'], label:{show:false}, lineStyle:{color:'#000', width:1, type:[6,5]}, data:[{yAxis:0}]}}, ax));
  if(c===3){
    [bl,rd,da].forEach((a,j)=>{
      const e = err_c4[r][j];
      series.push(Object.assign({type:'custom', name:'err', z:3, silent:true, clip:true,
        data: dphi.map((x,i)=>[x,a[i],e]),
        encode:{x:0,y:1},
        renderItem:(params,api)=>{const x=api.value(0), y=api.value(1), ee=api.value(2); const p1=api.coord([x,y-ee]), p2=api.coord([x,y+ee]);
          return {type:'line', shape:{x1:p1[0],y1:p1[1],x2:p2[0],y2:p2[1]}, style:{stroke:j===2?'#444':'#222', lineWidth:1.2}};}}, ax));
    });
  }
  series.push(Object.assign({type:'scatter', name:legendNames[0], symbol:'circle', symbolSize:9, z:4, data:pts(bl), itemStyle:{color:'#0000ff', opacity:0.95}}, ax));
  series.push(Object.assign({type:'scatter', name:legendNames[1], symbol:'rect', symbolSize:8.5, z:5, data:pts(rd), itemStyle:{color:'rgba(0,0,0,0)', borderColor:'#ff0000', borderWidth:1.4}}, ax));
  series.push(Object.assign({type:'scatter', name:legendNames[2], symbol:'circle', symbolSize:7, z:6, data:pts(da), itemStyle:{color:'rgba(0,0,0,0)', borderColor:'#1a1a1a', borderWidth:1.1}}, ax));
}

// ---------- text helpers ----------
const mctx = document.createElement('canvas').getContext('2d');
function tw(t,f){ mctx.font=f; return mctx.measureText(t).width; }
function T(x,y,text,font,z){ return {type:'text', x, y, z:z||60, style:{text, font, fill:'#000', align:'left', textAlign:'left', verticalAlign:'middle', textVerticalAlign:'middle'}}; }
function stackLabel(cx,cy,pre,sup,post,targetW){
  const F=17, f=10, FF=`bold ${F}px ${FONT}`, ff=`bold ${f}px ${FONT}`;
  const w1=tw(pre,FF), ws=Math.max(tw(sup,ff),tw('T',ff))+1, w2=tw(post,FF);
  const W=w1+ws+w2, s=targetW/W;
  return {type:'group', x:cx-targetW/2, y:cy, scaleX:s, z:60, children:[
    T(0,0,pre,FF), T(w1+0.5,-8,sup,ff), T(w1-1.5,9,'T',ff), T(w1+ws,0,post,FF)]};
}
const graphic=[];
// panel labels
const trigCX=[210,500,794,1088], trigW=[195,194,193,205];
for(let c=0;c<4;c++) graphic.push(stackLabel(trigCX[c],27,trigBins[c]+' < p','trig',' < '+trigBins[c+1]+' GeV/c',trigW[c]));
const assocCY=[55,310,595,876];
for(let r=0;r<4;r++) graphic.push(stackLabel(208,assocCY[r],assocBins[r]+' < p','assoc',' < '+assocBins[r+1]+' GeV/c',210));

// y-axis title (rotated)
(function(){
  const F=26, f=20, FF=`bold ${F}px ${FONT}`, ff=`bold ${f}px ${FONT}`;
  const a='1/N', b='trig', c=' dN/dΔφ';
  const wa=tw(a,FF), wb=tw(b,ff), wc=tw(c,FF), W=wa+wb+wc, s=190/W;
  graphic.push({type:'group', x:29, y:102, rotation:Math.PI/2, scaleX:s, z:60, children:[
    T(-W/2,0,a,FF), T(-W/2+wa,11,b,ff), T(-W/2+wa+wb,0,c,FF)]});
})();

// x-axis title (clipped at right edge)
graphic.push(T(1201,1166,'Δφ',`bold 22px ${FONT}`));

// ellipses
function ell(cx,cy,rx,ry,color){ const p=[]; for(let i=0;i<144;i++){const t=i/144*2*Math.PI; p.push([cx+rx*Math.cos(t), cy+ry*Math.sin(t)]);} 
  return {type:'polygon', z:55, shape:{points:p}, style:{fill:'none', stroke:color, lineWidth:7}}; }
graphic.push(ell(523,343,147,49,'#f42a0c'));
const GREEN='#138c17';
graphic.push(ell(546,455,102,62,GREEN));
graphic.push(ell(1131,446,97,72,GREEN));
graphic.push(ell(547,793,103,64,GREEN));
graphic.push(ell(1124,776,105,64,GREEN));

// legend
const LF=`bold 16px ${FONT}`;
const legS = 125/tw(legendNames[0],LF);
graphic.push({type:'circle', z:61, shape:{cx:460,cy:318,r:4.8}, style:{fill:'#0000ff'}});
graphic.push({type:'rect', z:61, shape:{x:457.5,y:336,width:9,height:9}, style:{fill:'none', stroke:'#ff0000', lineWidth:1.4}});
graphic.push({type:'circle', z:61, shape:{cx:459,cy:363.5,r:3.4}, style:{fill:'none', stroke:'#111', lineWidth:1.1}});
[318,341,363].forEach((y,i)=>graphic.push({type:'group', x:472, y, scaleX:legS, z:61, children:[T(0,0,legendNames[i],LF,61)]}));

// arrows
function arrow(x1,y1,x2,y2,len,half,w,shadow){
  const d=Math.hypot(x2-x1,y2-y1), ux=(x2-x1)/d, uy=(y2-y1)/d, bx=x2-ux*len, by=y2-uy*len;
  const st={stroke:'#000', lineWidth:w, lineCap:'round', lineJoin:'miter', fill:'none'};
  if(shadow) Object.assign(st,{shadowBlur:5, shadowColor:'rgba(0,0,0,0.45)', shadowOffsetX:1, shadowOffsetY:3});
  return [
    {type:'line', z:58, shape:{x1,y1,x2:x2-ux*2,y2:y2-uy*2}, style:Object.assign({},st)},
    {type:'polyline', z:58, shape:{points:[[bx-uy*half,by+ux*half],[x2,y2],[bx+uy*half,by-ux*half]]}, style:Object.assign({},st)}
  ];
}
graphic.push({type:'circle', z:58, shape:{cx:-1,cy:510,r:9.5}, style:{fill:'#000', shadowBlur:4, shadowColor:'rgba(0,0,0,0.4)', shadowOffsetY:2}});
arrow(33,514,446,454,19,10,4.2,true).forEach(e=>graphic.push(e));
arrow(-5,770,77,760,22,11,4,false).forEach(e=>graphic.push(e));

// annotation box
graphic.push({type:'rect', z:70, shape:{x:-2,y:922,width:1032,height:141}, style:{fill:'#ffff99', stroke:'#6e6e6e', lineWidth:1}});
(function(){
  const F=42, NF=`${F}px Lato, "Open Sans", sans-serif`, SF=`28px Lato, "Open Sans", sans-serif`;
  const w1=tw(note1[0],NF), w2=tw(note1[1],SF), w3=tw(note1[2],NF);
  const s1 = 710/(w1+w2+w3);
  graphic.push({type:'group', x:10, y:967, scaleX:s1, z:75, children:[
    T(0,0,note1[0],NF,75), T(w1+1,12,note1[1],SF,75), T(w1+w2+2,0,note1[2],NF,75)]});
  const AF=`bold 50px "DejaVu Sans", sans-serif`;
  const wa=tw(note2[0],AF), wb=tw(note2[1],NF);
  const s2 = 882/(wa+wb);
  graphic.push({type:'group', x:116, y:1027, scaleX:s2, z:75, children:[
    T(0,2,note2[0],AF,75), T(wa+2,0,note2[1],NF,75)]});
})();

const chart = echarts.init(document.getElementById('c'), null, {renderer:'canvas'});
chart.setOption({animation:false, backgroundColor:'#fff', grid:grids, xAxis, yAxis, series, graphic});
</script>
</body></html>
